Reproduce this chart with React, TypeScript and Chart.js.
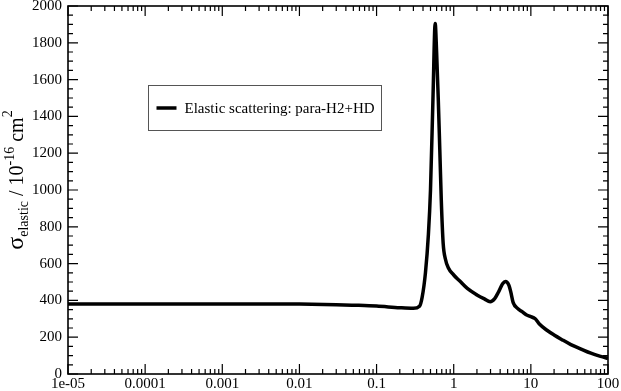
import { useEffect, useRef } from 'react';
import { Chart, registerables } from 'chart.js';

Chart.register(...registerables);

// Collision energy (log axis) and elastic cross section
const ENERGY = [1e-5, 1e-4, 1e-3, 3e-3, 0.01, 0.03, 0.05, 0.1, 0.2, 0.3, 0.36, 0.39, 0.43, 0.47, 0.5, 0.54, 0.575, 0.6, 0.63, 0.66, 0.69, 0.73, 0.78, 0.85, 1.0, 1.2, 1.5, 2.0, 2.5, 2.97, 3.4, 3.8, 4.3, 4.7, 5.2, 5.5, 5.9, 6.8, 7.7, 8.7, 9.8, 11.4, 13, 16, 20, 25, 33, 44, 60, 80, 100];
const SIGMA = [380, 380, 381, 381, 380, 377, 374, 369, 360, 357, 368, 418, 550, 760, 1000, 1520, 1905, 1750, 1500, 1220, 946, 710, 625, 578, 538, 505, 465, 430, 408, 393, 410, 445, 490, 503, 482, 445, 388, 355, 339, 322, 313, 300, 270, 239, 212, 188, 160, 137, 113, 96, 85];

const SERIES_LABEL = 'Elastic scattering: para-H2+HD';

const X_MAJOR = [1e-5, 1e-4, 1e-3, 1e-2, 1e-1, 1, 10, 100];
const X_LABELS = ['1e-05', '0.0001', '0.001', '0.01', '0.1', '1', '10', '100'];
const Y_MIN = 0;
const Y_MAX = 2000;
const Y_STEP = 200;
const Y_MINOR_STEP = 50;

const FONT = '"Liberation Serif", "Times New Roman", serif';

function drawYTitle(ctx: CanvasRenderingContext2D, cx: number, cy: number) {
  const segs = [
    { t: 'σ', size: 24, dy: 0 },
    { t: 'elastic', size: 14, dy: 5 },
    { t: ' / 10', size: 20, dy: 0 },
    { t: '-16', size: 14, dy: -9 },
    { t: ' cm', size: 20, dy: 0 },
    { t: '2', size: 14, dy: -11 },
  ];
  ctx.save();
  ctx.fillStyle = '#000';
  ctx.textBaseline = 'alphabetic';
  ctx.textAlign = 'left';
  let total = 0;
  const widths = segs.map((s) => {
    ctx.font = `${s.size}px ${FONT}`;
    const w = ctx.measureText(s.t).width;
    total += w;
    return w;
  });
  ctx.translate(cx, cy);
  ctx.rotate(-Math.PI / 2);
  let x = -total / 2;
  segs.forEach((s, i) => {
    ctx.font = `${s.size}px ${FONT}`;
    ctx.fillText(s.t, x, s.dy);
    x += widths[i];
  });
  ctx.restore();
}

const framePlugin = {
  id: 'frameTicks',
  afterDraw(chart: any) {
    const { ctx, chartArea } = chart;
    const { left, right, top, bottom } = chartArea;
    const xs = chart.scales.x;
    const ys = chart.scales.y;
    ctx.save();
    ctx.strokeStyle = '#000';
    ctx.lineWidth = 1.2;
    const MAJ = 10;
    const MIN = 5;
    ctx.beginPath();
    X_MAJOR.forEach((d, i) => {
      const px = xs.getPixelForValue(d);
      ctx.moveTo(px, bottom);
      ctx.lineTo(px, bottom - MAJ);
      ctx.moveTo(px, top);
      ctx.lineTo(px, top + MAJ);
      if (i < X_MAJOR.length - 1) {
        for (let m = 2; m <= 9; m++) {
          const mx = xs.getPixelForValue(d * m);
          ctx.moveTo(mx, bottom);
          ctx.lineTo(mx, bottom - MIN);
          ctx.moveTo(mx, top);
          ctx.lineTo(mx, top + MIN);
        }
      }
    });
    for (let v = Y_MIN; v <= Y_MAX; v += Y_MINOR_STEP) {
      const py = ys.getPixelForValue(v);
      const len = v % Y_STEP === 0 ? MAJ : MIN;
      ctx.moveTo(left, py);
      ctx.lineTo(left + len, py);
      ctx.moveTo(right, py);
      ctx.lineTo(right - len, py);
    }
    ctx.stroke();
    ctx.lineWidth = 1.6;
    ctx.strokeRect(left, top, right - left, bottom - top);

    // legend
    const ds = chart.data.datasets[0];
    const bx = left + 80.5;
    const by = top + 79.5;
    const bw = 233;
    const bh = 45;
    ctx.fillStyle = '#fff';
    ctx.fillRect(bx, by, bw, bh);
    ctx.strokeStyle = '#555';
    ctx.lineWidth = 1;
    ctx.strokeRect(bx, by, bw, bh);
    ctx.strokeStyle = ds.borderColor;
    ctx.lineWidth = ds.borderWidth;
    ctx.beginPath();
    ctx.moveTo(bx + 8, by + bh / 2);
    ctx.lineTo(bx + 28, by + bh / 2);
    ctx.stroke();
    ctx.fillStyle = '#000';
    ctx.font = `15px ${FONT}`;
    ctx.textBaseline = 'middle';
    ctx.textAlign = 'left';
    ctx.fillText(ds.label, bx + 36, by + bh / 2 + 1);
    ctx.restore();

    drawYTitle(ctx, 23, (top + bottom) / 2 - 10);
  },
};

export default function App() {
  const ref = useRef<HTMLCanvasElement | null>(null);
  useEffect(() => {
    const canvas = ref.current;
    if (!canvas) return;
    const chart = new Chart(canvas, {
      type: 'line',
      data: {
        datasets: [
          {
            label: SERIES_LABEL,
            data: ENERGY.map((e, i) => ({ x: e, y: SIGMA[i] })),
            borderColor: '#000',
            borderWidth: 3.5,
            pointRadius: 0,
            fill: false,
            cubicInterpolationMode: 'monotone',
          },
        ],
      },
      options: {
        animation: false,
        responsive: false,
        devicePixelRatio: 1,
        layout: { padding: { top: 6, right: 13, left: 0, bottom: 0 } },
        plugins: { legend: { display: false }, tooltip: { enabled: false } },
        scales: {
          x: {
            type: 'logarithmic',
            min: X_MAJOR[0],
            max: X_MAJOR[X_MAJOR.length - 1],
            grid: { display: false, drawTicks: false },
            border: { display: false },
            afterBuildTicks: (s: any) => {
              s.ticks = X_MAJOR.map((v) => ({ value: v }));
            },
            afterFit: (s: any) => {
              s.height = 17;
              s.paddingLeft = 0;
              s.paddingRight = 0;
            },
            ticks: {
              autoSkip: false,
              maxRotation: 0,
              minRotation: 0,
              padding: 1,
              color: '#000',
              font: { family: FONT, size: 15 },
              callback: (_v: any, i: number) => X_LABELS[i],
            },
          },
          y: {
            type: 'linear',
            min: Y_MIN,
            max: Y_MAX,
            grid: { display: false, drawTicks: false },
            border: { display: false },
            afterFit: (s: any) => {
              s.width = 68;
              s.paddingTop = 0;
              s.paddingBottom = 0;
            },
            ticks: {
              stepSize: Y_STEP,
              padding: 6,
              color: '#000',
              font: { family: FONT, size: 15 },
              callback: (v: any) => String(v),
            },
          },
        },
      },
      plugins: [framePlugin],
    } as any);
    return () => chart.destroy();
  }, []);
  return (
    <div style={{ position: 'absolute', left: 0, top: 0, width: 621, height: 391, background: '#fff' }}>
      <canvas ref={ref} width={621} height={391} style={{ display: 'block', width: 621, height: 391 }} />
    </div>
  );
}
